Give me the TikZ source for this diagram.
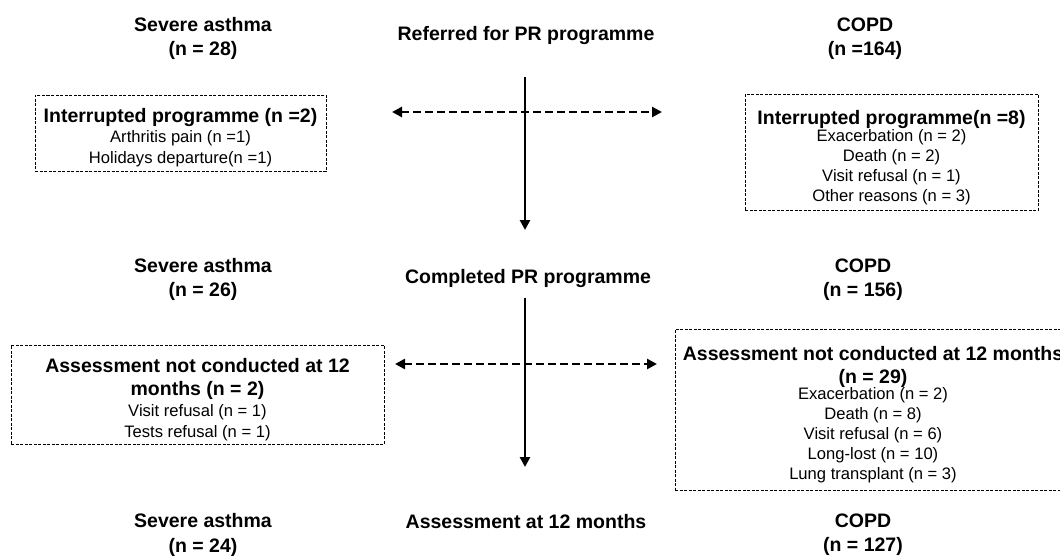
\documentclass[tikz,border=0pt]{standalone}
\usepackage{fontspec}
\setmainfont{Liberation Sans}
\usetikzlibrary{arrows.meta}
\newcommand\boxtext[3]{\raisebox{-#1}[\height][\depth]{\parbox{#2}{\centering\lineskiplimit=-100pt\relax #3}}}
\newcommand\bfl{\fontsize{19.5}{23}\bfseries\selectfont}
\newcommand\nml[1]{\fontsize{16.6}{#1}\mdseries\selectfont}
\begin{document}
\begin{tikzpicture}[x=1pt,y=-1pt,
  title/.style={font=\bfseries\fontsize{19.5}{24.5}\selectfont, align=center, inner sep=0pt},
  reason/.style={draw, line width=0.9pt, dash pattern=on 3pt off 1.5pt, inner sep=0pt},
  flow/.style={line width=2.8pt, -{Triangle[length=10pt,width=10pt]}},
  side/.style={line width=2.8pt, dash pattern=on 8pt off 4pt, {Triangle[length=10pt,width=10pt]}-{Triangle[length=10pt,width=10pt]}},
]
\useasboundingbox (0,0) rectangle (1060,555);
\clip (0,0) rectangle (1060,555);
% row 1
\node[title] (sa1) at (203,38.5) {Severe asthma\\(n = 28)};
\node[title] (ref) at (526,35) {Referred for PR programme};
\node[title] (copd1) at (865,38.5) {COPD\\(n =164)};
% boxes 1
\node[reason, minimum height=76pt] (int1) at (180.5,133)
  {\boxtext{4.2pt}{291pt}{\bfl Interrupted programme (n =2)\par
   \nml{20.5}Arthritis pain (n =1)\par
   Holidays departure(n =1)}};
\node[reason, minimum height=116pt] (int2) at (891.5,152)
  {\boxtext{5.6pt}{293pt}{\bfl Interrupted programme(n =8)\par
   \nml{20.3}\vspace{-3.3pt}Exacerbation (n = 2)\par
   Death (n = 2)\par
   Visit refusal (n = 1)\par
   Other reasons (n = 3)}};
% row 2
\node[title] (sa2) at (203,279.5) {Severe asthma\\(n = 26)};
\node[title] (comp) at (528,278) {Completed PR programme};
\node[title] (copd2) at (863,279.5) {COPD\\(n = 156)};
% boxes 2
\node[reason, minimum height=99pt] (nc1) at (197.5,394.5)
  {\boxtext{5.1pt}{373pt}{\bfl Assessment not conducted at 12\par
   months (n = 2)\par
   \nml{21.5}\vspace{-0.5pt}Visit refusal (n = 1)\par
   Tests refusal (n = 1)}};
\node[reason, minimum height=161pt] (nc2) at (873,409.5)
  {\boxtext{5.1pt}{396pt}{\bfl Assessment not conducted at 12 months\par
   (n = 29)\par
   \nml{20}\vspace{-4pt}Exacerbation (n = 2)\par
   Death (n = 8)\par
   Visit refusal (n = 6)\par
   Long-lost (n = 10)\par
   Lung transplant (n = 3)}};
% row 3
\node[title] (sa3) at (203,535) {Severe asthma\\(n = 24)};
\node[title] (ass) at (526,522) {Assessment at 12 months};
\node[title] (copd3) at (863,534.5) {COPD\\(n = 127)};
% connectors
\coordinate (v1s) at (525,77);
\coordinate (v1e) at (525,230);
\coordinate (h1l) at (392,112);
\coordinate (h1r) at (662,112);
\coordinate (v2s) at (525,298);
\coordinate (v2e) at (525,467);
\coordinate (h2l) at (395,364);
\coordinate (h2r) at (657,364);
\draw[flow] (v1s) -- (v1e);
\draw[side] (h1l) -- (h1r);
\draw[flow] (v2s) -- (v2e);
\draw[side] (h2l) -- (h2r);
\end{tikzpicture}
\end{document}
